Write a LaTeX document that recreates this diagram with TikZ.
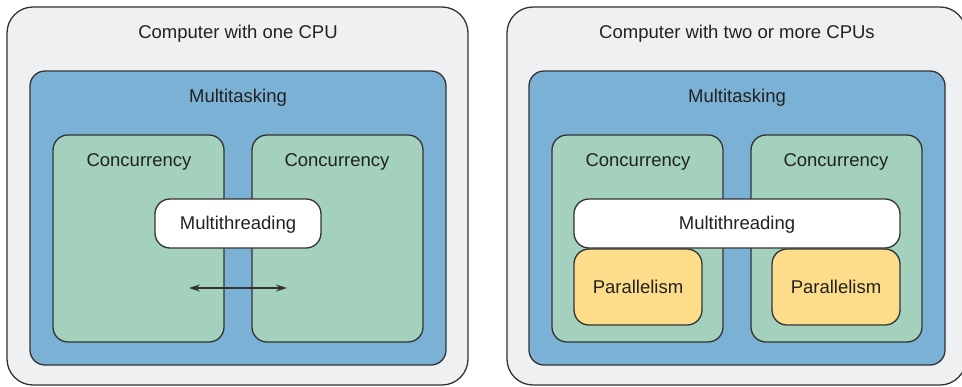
\documentclass[tikz,border=0pt]{standalone}
\usepackage{fontspec}
\setmainfont{Liberation Sans}
\usetikzlibrary{arrows.meta}
\definecolor{pcgray}{HTML}{EFF0F1}
\definecolor{taskblue}{HTML}{7BB1D5}
\definecolor{concgreen}{HTML}{A3D1BD}
\definecolor{paryellow}{HTML}{FDDC8A}
\definecolor{edge}{HTML}{333333}
\definecolor{ink}{HTML}{222222}
\tikzset{
  box/.style={draw=edge, line width=1.3pt, inner sep=0pt},
  pcbox/.style={box, fill=pcgray, rounded corners=26pt},
  taskbox/.style={box, fill=taskblue, rounded corners=15pt},
  concbox/.style={box, fill=concgreen, rounded corners=15pt},
  threadbox/.style={box, fill=white, rounded corners=15pt},
  parbox/.style={box, fill=paryellow, rounded corners=15pt},
  lbl/.style={text=ink, font=\fontsize{18.5}{22}\selectfont, inner sep=0pt, anchor=center},
  swap/.style={draw=edge, line width=1.1pt, >={Stealth[length=11pt,width=7pt]}, <->},
}
\begin{document}
\begin{tikzpicture}[x=1pt,y=-1pt]
\useasboundingbox (0,0) rectangle (962,386);

% ---------- single CPU ----------
\draw[pcbox] (7,7) rectangle (468,385);
\node[lbl] (pc1) at (238,34) {Computer with one CPU};
\draw[taskbox] (30,71) rectangle (446,365);
\node[lbl] (mt1) at (238,98) {Multitasking};
\draw[concbox] (53,135) rectangle (224,342);
\draw[concbox] (252,135) rectangle (423,342);
\node[lbl] (c1a) at (139,162) {Concurrency};
\node[lbl] (c1b) at (337,162) {Concurrency};
\draw[threadbox] (155,199) rectangle (321,248);
\node[lbl] (th1) at (238,225) {Multithreading};
\coordinate (sw1) at (189,288);
\coordinate (sw2) at (287,288);
\draw[swap] (sw1) -- (sw2);

% ---------- several CPUs ----------
\draw[pcbox] (507,7) rectangle (966,385);
\node[lbl] (pc2) at (737,34) {Computer with two or more CPUs};
\draw[taskbox] (529,71) rectangle (945,365);
\node[lbl] (mt2) at (737,98) {Multitasking};
\draw[concbox] (552,135) rectangle (723,342);
\draw[concbox] (751,135) rectangle (922,342);
\node[lbl] (c2a) at (638,162) {Concurrency};
\node[lbl] (c2b) at (836,162) {Concurrency};
\draw[parbox] (574,249) rectangle (702,325);
\draw[parbox] (772,249) rectangle (900,325);
\node[lbl] (p2a) at (638,287) {Parallelism};
\node[lbl] (p2b) at (836,287) {Parallelism};
\draw[threadbox] (574,199) rectangle (900,248);
\node[lbl] (th2) at (737,225) {Multithreading};
\end{tikzpicture}
\end{document}
